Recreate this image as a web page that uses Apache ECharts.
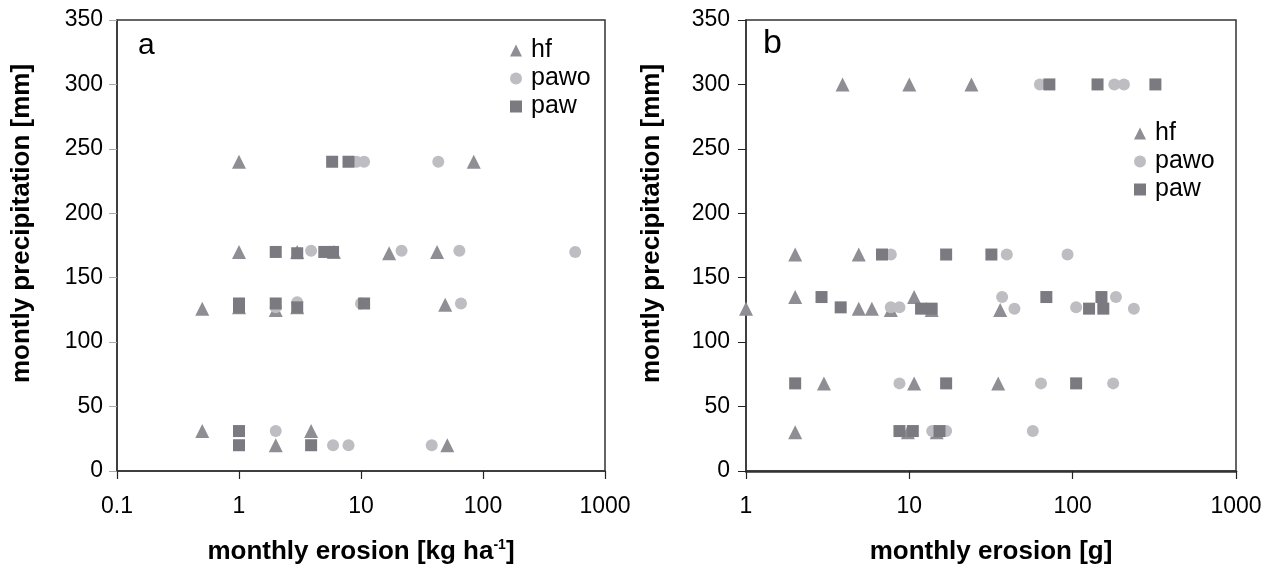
<!DOCTYPE html>
<html>
<head>
<meta charset="utf-8">
<script src="https://cdn.jsdelivr.net/npm/echarts@6/dist/echarts.min.js"></script>
<style>
  html, body { margin: 0; padding: 0; background: #ffffff; }
  #chart { width: 1277px; height: 566px; }
</style>
</head>
<body>
<div id="chart"></div>
<script>
// Panel a: monthly erosion [kg ha-1] vs monthly precipitation [mm]
const hfA = [[1,240],[84,240],[1,170],[3,170],[6,170],[17,169],[42,170],[0.5,126],[1,127],[2,125],[3,127],[49,129],[0.5,31],[3.9,31],[2,20],[51,20]];
const pawoA = [[9.2,240],[10.6,240],[43,240],[3.9,171],[21.5,171],[64,171],[570,170],[2,127],[3,131],[10,130],[66,130],[2,31],[5.9,20],[7.9,20],[38,20]];
const pawA = [[5.8,240],[7.9,240],[2,170],[3,169],[5,170],[5.9,170],[1,130],[1,127],[2,130],[3,127],[10.6,130],[1,31],[1,20],[3.9,20]];

// Panel b: monthly erosion [g] vs monthly precipitation [mm]
const hfB = [[3.9,300],[10,300],[24,300],[2,168],[4.9,168],[2,135],[10.7,135],[1,126],[4.9,126],[5.9,126],[7.7,125],[13.7,125],[36,125],[3,68],[10.7,68],[35,68],[2,30],[9.8,30],[14.7,30]];
const pawoB = [[63,300],[180,300],[206,300],[7.7,168],[39.5,168],[93,168],[37,135],[184,135],[7.7,127],[8.7,127],[44,126],[105,127],[237,126],[8.7,68],[64,68],[177,68],[13.8,31],[16.8,31],[57,31]];
const pawB = [[72,300],[142,300],[321,300],[6.8,168],[16.8,168],[31.8,168],[2.9,135],[69,135],[150,135],[3.8,127],[11.8,126],[13.7,126],[126,126],[154,126],[2,68],[16.8,68],[105,68],[8.7,31],[10.5,31],[15.3,31]];

const seriesNames = ['hf', 'pawo', 'paw'];
const yTicks = { min: 0, max: 350, interval: 50 };

const FONT = '"Liberation Sans", Arial, sans-serif';
const COLORS = { hf: '#8f8e95', pawo: '#bdbdc2', paw: '#7b7a81' };
const SYMBOLS = { hf: 'triangle', pawo: 'circle', paw: 'rect' };
const SIZES = { hf: 14, pawo: 12, paw: 12 };

function yAxisFor(gridIndex, tickColor, nameGap, labelMargin) {
  return {
    type: 'value', gridIndex,
    min: yTicks.min, max: yTicks.max, interval: yTicks.interval,
    name: 'montly precipitation [mm]',
    nameLocation: 'middle', nameGap, nameRotate: 90,
    nameTextStyle: { fontFamily: FONT, fontSize: 26, fontWeight: 'bold', color: '#000', padding: [0, 0, 0, 44] },
    axisLine: { show: true, lineStyle: { color: '#333', width: 1.5 } },
    axisTick: { show: true, inside: false, length: 8, lineStyle: { color: tickColor, width: 1 } },
    axisLabel: { fontFamily: FONT, fontSize: 23, color: '#000', margin: labelMargin },
    splitLine: { show: false }
  };
}

function xAxisFor(gridIndex, min, name, lineWidth) {
  return {
    type: 'log', logBase: 10, gridIndex, min, max: 1000,
    name, nameLocation: 'middle', nameGap: 67,
    nameTextStyle: {
      fontFamily: FONT, fontSize: 26, fontWeight: 'bold', color: '#000', lineHeight: 28,
      rich: { sup: { fontFamily: FONT, fontSize: 14, fontWeight: 'bold', color: '#000', verticalAlign: 'top', lineHeight: 28 } }
    },
    axisLine: { show: true, lineStyle: { color: '#333', width: lineWidth } },
    axisTick: { show: true, inside: false, length: 8, lineStyle: { color: '#222', width: 1.2 } },
    axisLabel: {
      fontFamily: FONT, fontSize: 23, color: '#000', margin: 24,
      formatter: v => String(Number(v.toPrecision(6)))
    },
    splitLine: { show: false },
    minorTick: { show: false }
  };
}

function scatter(name, data, idx) {
  return {
    type: 'scatter', name, data,
    xAxisIndex: idx, yAxisIndex: idx,
    symbol: SYMBOLS[name], symbolSize: SIZES[name],
    itemStyle: { color: COLORS[name], opacity: 1 },
    clip: false
  };
}

function legendAt(left, top) {
  return {
    orient: 'vertical', left, top,
    itemWidth: 12, itemHeight: 12, itemGap: 3,
    textStyle: { fontFamily: FONT, fontSize: 25, color: '#000', padding: [0, 0, 0, 4] },
    data: seriesNames.map(n => ({ name: n, icon: SYMBOLS[n] }))
  };
}

const chart = echarts.init(document.getElementById('chart'), null, { renderer: 'canvas' });
chart.setOption({
  backgroundColor: '#ffffff',
  animation: false,
  title: [
    { text: 'a', left: 133, top: 26, textStyle: { fontFamily: FONT, fontSize: 30, fontWeight: 'normal', color: '#000' } },
    { text: 'b', left: 758, top: 22, textStyle: { fontFamily: FONT, fontSize: 34, fontWeight: 'normal', color: '#000' } }
  ],
  legend: [legendAt(505, 33), legendAt(1129, 116)],
  grid: [
    { left: 117, right: 672, top: 20, bottom: 95, outerBoundsMode: 'none', containLabel: false, show: true, borderColor: '#333', borderWidth: 1.5, backgroundColor: 'transparent' },
    { left: 746, right: 41, top: 20, bottom: 95, outerBoundsMode: 'none', containLabel: false, show: true, borderColor: '#333', borderWidth: 1.5, backgroundColor: 'transparent' }
  ],
  xAxis: [
    xAxisFor(0, 0.1, 'monthly erosion [kg ha{sup|-1}]', 1.5),
    xAxisFor(1, 1, 'monthly erosion [g]', 2.5)
  ],
  yAxis: [
    yAxisFor(0, '#aaaaaa', 82, 14),
    yAxisFor(1, '#222222', 81, 16)
  ],
  series: [
    scatter('hf', hfA, 0), scatter('pawo', pawoA, 0), scatter('paw', pawA, 0),
    scatter('hf', hfB, 1), scatter('pawo', pawoB, 1), scatter('paw', pawB, 1)
  ]
});
</script>
</body>
</html>
